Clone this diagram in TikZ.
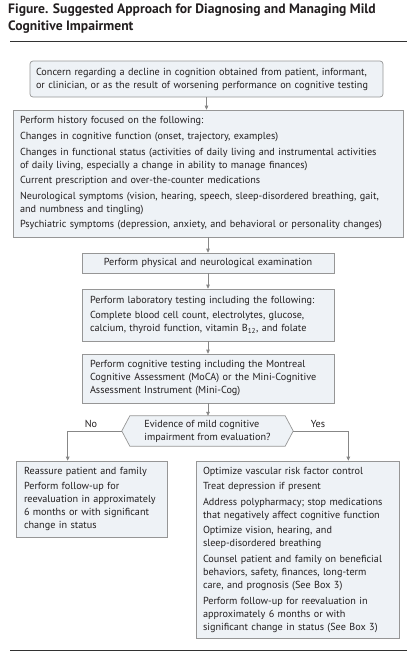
\documentclass[tikz,border=0pt]{standalone}
\usepackage{fontspec}
\setmainfont{PT Sans}
\usetikzlibrary{arrows.meta, backgrounds}

\definecolor{boxfill}{RGB}{238,242,246}
\definecolor{boxline}{RGB}{150,150,150}
\definecolor{arrowgray}{RGB}{135,135,135}
\definecolor{inkgray}{RGB}{35,31,32}
\definecolor{rulegray}{RGB}{50,50,50}

% gap between items inside a box
\newcommand{\nextitem}{\\[2.6pt]}

\begin{document}
\begin{tikzpicture}[x=1pt, y=-1pt, font=\fontsize{10.2}{13}\selectfont, text=inkgray,
  stepbox/.style={draw=boxline, fill=boxfill, line width=0.7pt, align=left, inner xsep=8pt, inner ysep=3pt},
  flow/.style={draw=arrowgray, line width=0.7pt, -{Triangle[length=4pt, width=3.6pt]}}]

\useasboundingbox (0,0) rectangle (416,656);

% title and rules
\node[anchor=north west, inner sep=0pt, align=left, font=\fontsize{13.6}{17}\selectfont\bfseries] (title) at (8,4)
  {Figure. Suggested Approach for Diagnosing and Managing Mild\\Cognitive Impairment};
\draw[line width=0.8pt, rulegray] (10,41) -- (407,41);
\draw[line width=0.8pt, rulegray] (10,650) -- (407,650);

% main column
\node[stepbox, inner xsep=6pt, rounded corners=3pt, text width=341pt, minimum height=36pt] (concern) at (206.5,79)
  {Concern regarding a decline in cognition obtained from patient, informant,\\
   or clinician, or as the result of worsening performance on cognitive testing};
\node[stepbox, inner xsep=7pt, text width=376pt, minimum height=127pt] (history) at (208,173.5)
  {Perform history focused on the following:\nextitem
   Changes in cognitive function (onset, trajectory, examples)\nextitem
   Changes in functional status (activities of daily living and instrumental activities\\
   of daily living, especially a change in ability to manage finances)\nextitem
   Current prescription and over-the-counter medications\nextitem
   Neurological symptoms (vision, hearing, speech, sleep-disordered breathing, gait,\\
   and numbness and tingling)\nextitem
   Psychiatric symptoms (depression, anxiety, and behavioral or personality changes)};
\node[stepbox, align=center, text width=236pt, minimum height=20pt] (physical) at (208,263)
  {Perform physical and neurological examination};
\node[stepbox, text width=236pt, minimum height=52pt] (labs) at (208,315)
  {Perform laboratory testing including the following:\nextitem
   Complete blood cell count, electrolytes, glucose,\\
   calcium, thyroid function, vitamin B\textsubscript{12}, and folate};
\node[stepbox, text width=236pt, minimum height=49pt] (cogtest) at (208,378.5)
  {Perform cognitive testing including the Montreal\\
   Cognitive Assessment (MoCA) or the Mini-Cognitive\\
   Assessment Instrument (Mini-Cog)};

% decision
\node[align=left, inner sep=0pt, minimum width=171pt, minimum height=30pt] (evidence) at (207.5,431)
  {Evidence of mild cognitive\\impairment from evaluation?};
\begin{scope}[on background layer]
  \draw[draw=boxline, fill=boxfill, line width=0.7pt]
    (evidence.west) -- ([xshift=8pt]evidence.north west) -- ([xshift=-8pt]evidence.north east)
    -- (evidence.east) -- ([xshift=-8pt]evidence.south east) -- ([xshift=8pt]evidence.south west) -- cycle;
\end{scope}
\node (nolabel) at (91,424) {No};
\node (yeslabel) at (318,424) {Yes};

% outcomes
\node[stepbox, text width=135pt, minimum height=76pt] (nobox) at (91.5,499)
  {Reassure patient and family\nextitem
   Perform follow-up for\\
   reevaluation in approximately\\
   6 months or with significant\\
   change in status};
\node[stepbox, inner xsep=7pt, text width=189pt, minimum height=177pt] (yesbox) at (297.5,549.5)
  {Optimize vascular risk factor control\nextitem
   Treat depression if present\nextitem
   Address polypharmacy; stop medications\\
   that negatively affect cognitive function\nextitem
   Optimize vision, hearing, and\\
   sleep-disordered breathing\nextitem
   Counsel patient and family on beneficial\\
   behaviors, safety, finances, long-term\\
   care, and prognosis (See Box 3)\nextitem
   Perform follow-up for reevaluation in\\
   approximately 6 months or with\\
   significant change in status (See Box 3)};

% arrows
\draw[flow] (concern.south) -- (concern.south |- history.north);
\draw[flow] (history.south) -- (physical.north);
\draw[flow] (physical.south) -- (labs.north);
\draw[flow] (labs.south) -- (cogtest.north);
\draw[flow] (cogtest.south) -- (cogtest.south |- evidence.north);
\draw[flow] (evidence.west) -| ([xshift=52pt]nobox.north west);
\draw[flow] (evidence.east) -| ([xshift=-51pt]yesbox.north east);
\end{tikzpicture}
\end{document}
